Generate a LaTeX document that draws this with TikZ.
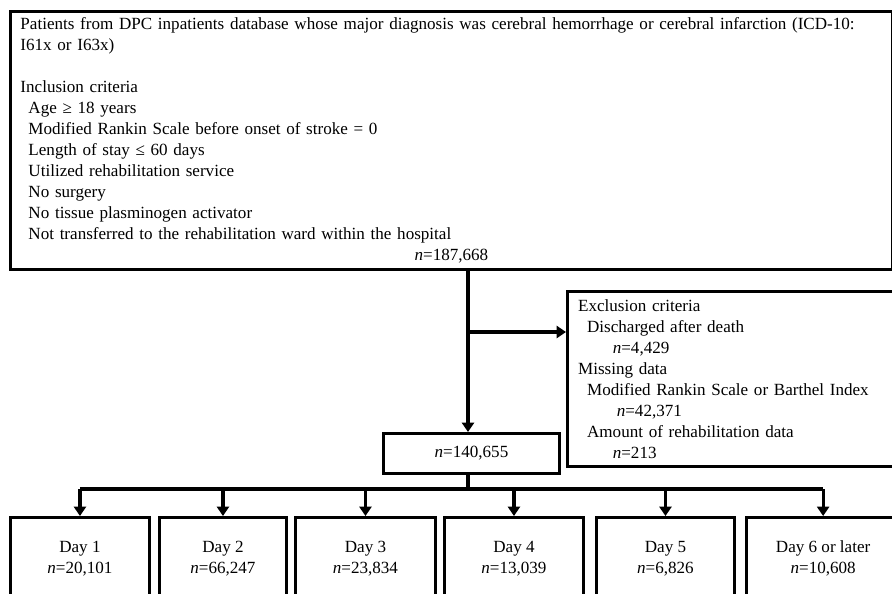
\documentclass[tikz,border=0pt]{standalone}
\usepackage{fontspec}
\setmainfont{Liberation Serif}
\usetikzlibrary{positioning, arrows.meta}
\tikzset{
    box/.style={
        draw, line width=2.2pt,
        inner xsep=7.5pt, inner ysep=2pt,
        font=\fontsize{12.8}{15.75}\selectfont
    },
    daybox/.style={
        box, anchor=north west,
        minimum height=61.5pt,
        align=center
    },
    conn/.style={line width=2.4pt},
    arr/.style={conn, -{Triangle[width=9pt,length=7pt]}}
}
\newcommand{\nn}{\textit{n}=}

\begin{document}
\begin{tikzpicture}[x=0.75pt, y=-0.75pt]

    \useasboundingbox (0,0) rectangle (892,593);
    \clip (0,0) rectangle (892,593);

    % Source population
    \node[box, anchor=north west, text width=646.5pt, align=left,
        inner ysep=4pt, minimum height=193.5pt] (top) at (9,10) {%
        Patients from DPC inpatients database whose major diagnosis was cerebral hemorrhage or cerebral infarction (ICD-10: I61x or I63x)\\[15.75pt]
        Inclusion criteria\\
        \hspace*{6pt}Age ≥ 18 years\\
        \hspace*{6pt}Modified Rankin Scale before onset of stroke = 0\\
        \hspace*{6pt}Length of stay ≤ 60 days\\
        \hspace*{6pt}Utilized rehabilitation service\\
        \hspace*{6pt}No surgery\\
        \hspace*{6pt}No tissue plasminogen activator\\
        \hspace*{6pt}Not transferred to the rehabilitation ward within the hospital\\
        \makebox[\linewidth]{\nn187,668}};

    % Exclusions
    \node[box, anchor=north west, text width=240pt, align=left,
        inner xsep=8pt, minimum height=131.25pt] (excl) at (566,290) {%
        Exclusion criteria\\
        \hspace*{6.75pt}Discharged after death\\
        \hspace*{26pt}\nn4,429\\
        Missing data\\
        \hspace*{6.75pt}Modified Rankin Scale or Barthel Index\\
        \hspace*{29pt}\nn42,371\\
        \hspace*{6.75pt}Amount of rehabilitation data\\
        \hspace*{26pt}\nn213};

    % Analysed cohort
    \node[box, anchor=north west, minimum width=132pt, minimum height=30pt] (mid) at (382,432) {\nn140,655};

    % Groups by day
    \node[daybox, minimum width=104.25pt] (day1) at (9,516) {Day 1\\\nn20,101};
    \node[daybox, minimum width=95.25pt] (day2) at (158,516) {Day 2\\\nn66,247};
    \node[daybox, minimum width=105pt] (day3) at (294,516) {Day 3\\\nn23,834};
    \node[daybox, minimum width=104.25pt] (day4) at (443,516) {Day 4\\\nn13,039};
    \node[daybox, minimum width=103.5pt] (day5) at (595,516) {Day 5\\\nn6,826};
    \node[daybox, minimum width=115pt] (day6) at (745,516) {Day 6 or later\\\nn10,608};

    % Lines
    \coordinate (split) at (468,332);
    \coordinate (bus) at (468,489);
    \draw[arr] (top.south -| split) -- (split |- mid.north);
    \draw[arr] (split) -- (split -| excl.west);
    \draw[conn] (bus |- mid.south) -- (bus);
    \draw[conn] (bus -| day1.north) -- (bus -| day6.north);
    \foreach \d in {day1,day2,day3,day4,day5,day6}
        \draw[arr] (bus -| \d.north) -- (\d.north);

\end{tikzpicture}
\end{document}
